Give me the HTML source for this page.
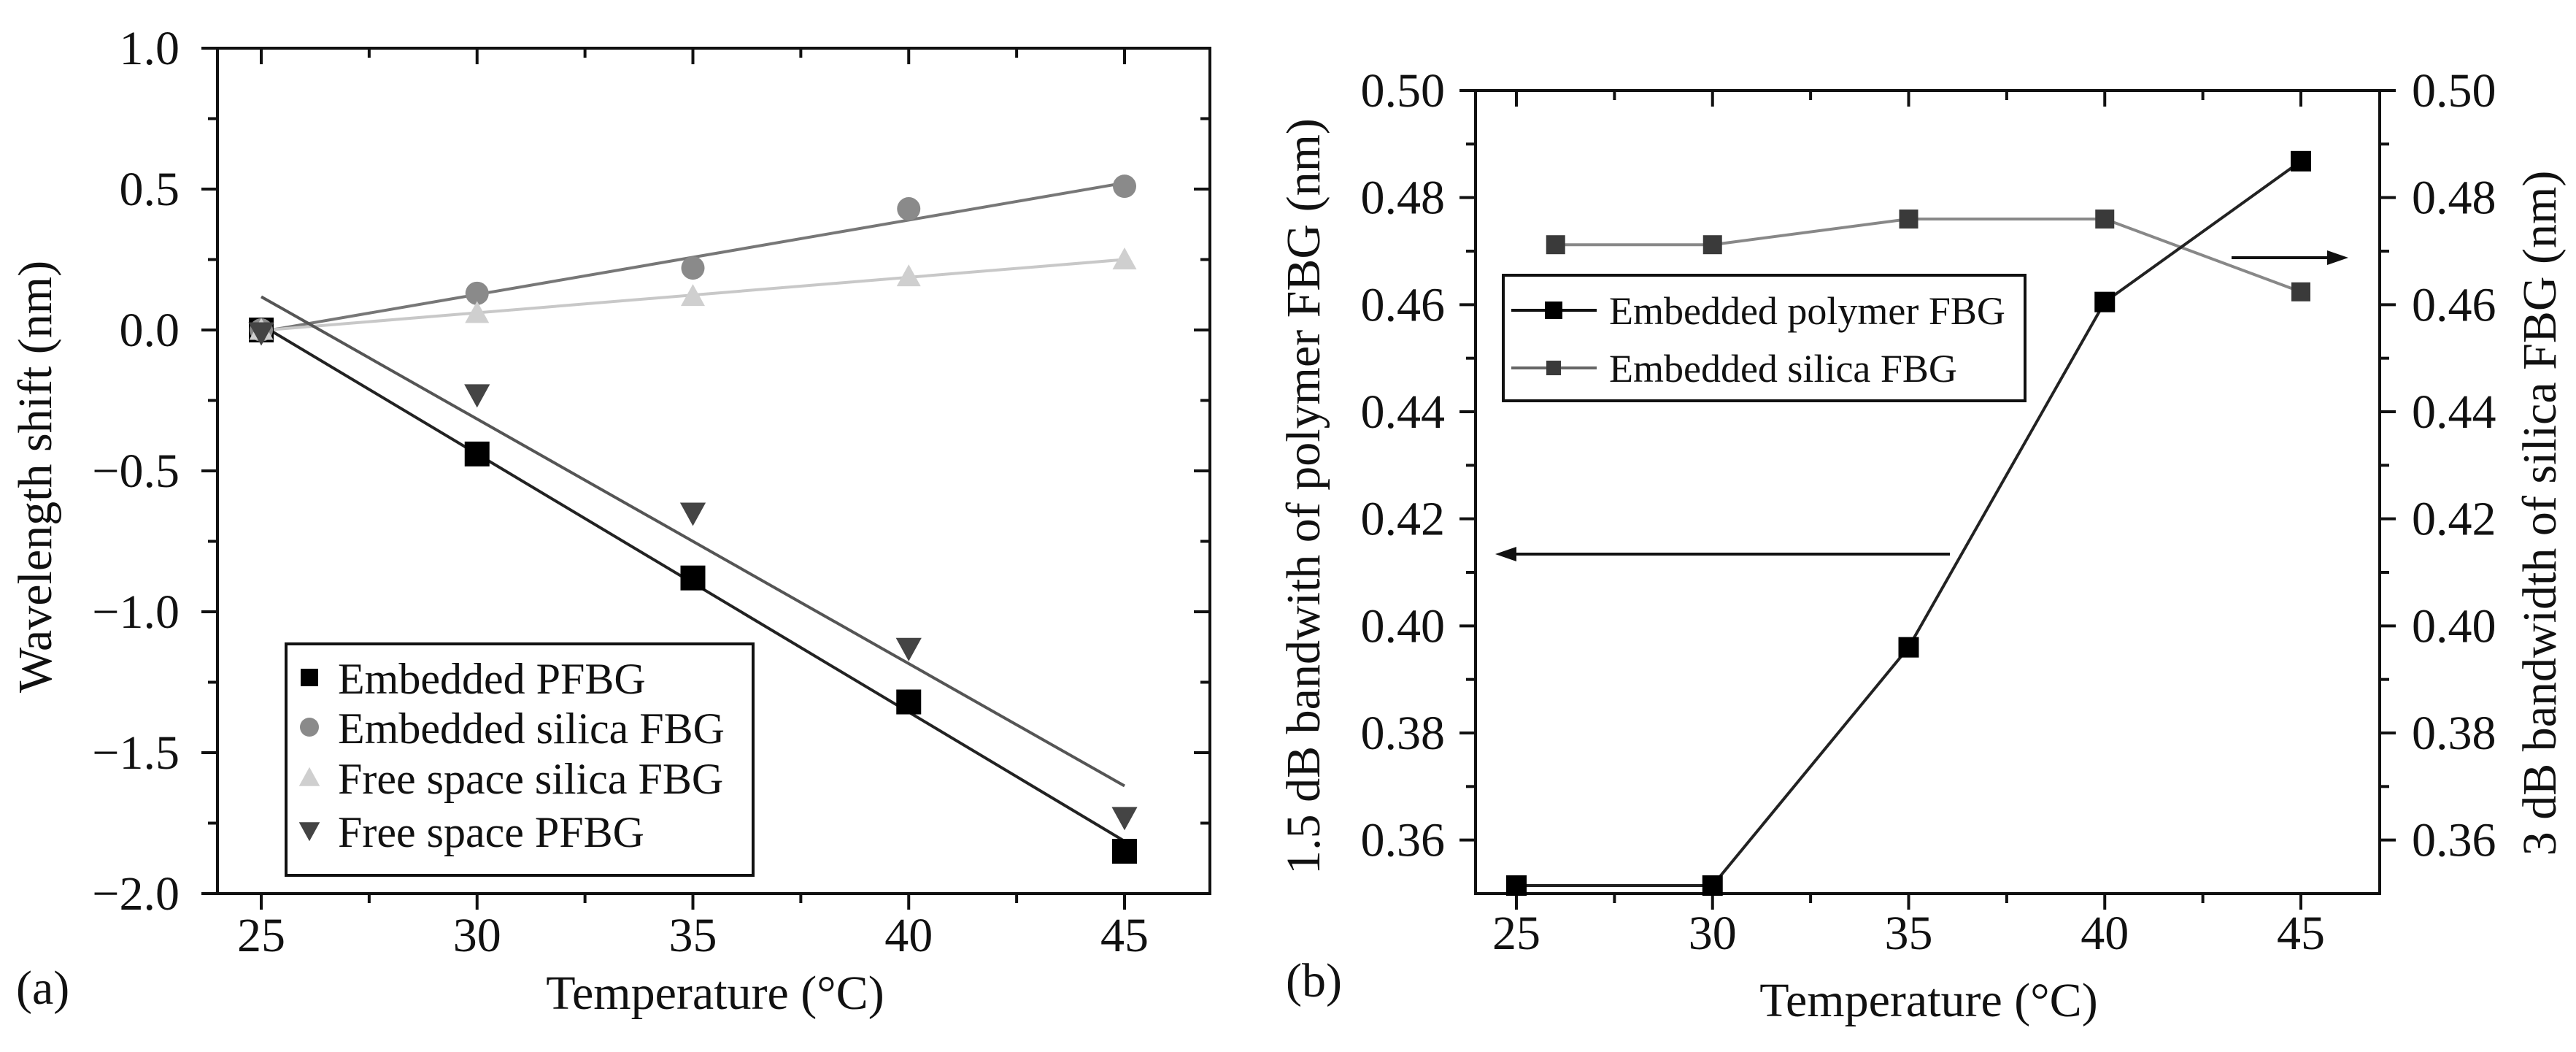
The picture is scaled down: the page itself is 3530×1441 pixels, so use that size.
<!DOCTYPE html>
<html><head><meta charset="utf-8"><style>
html,body{margin:0;padding:0;background:#fff;}
svg{display:block;font-family:"Liberation Serif",serif;}
</style></head><body>
<svg id="fig" width="3530" height="1441" viewBox="0 0 3530 1441" xmlns="http://www.w3.org/2000/svg">
<g id="pa"></g>
<g id="pb"></g>
</svg>
<script>
// Panel (a) data
const tempsA = [25, 30, 35, 40, 45];
const embPFBG = [0, -0.44, -0.88, -1.32, -1.85];
const embSilica = [0, 0.13, 0.22, 0.43, 0.51];
const freeSilica = [0, 0.06, 0.12, 0.19, 0.25];
const freePFBG = [-0.01, -0.23, -0.65, -1.13, -1.73];
const yTicksA = [1.0, 0.5, 0.0, -0.5, -1.0, -1.5, -2.0];
const yTickLabelsA = ["1.0", "0.5", "0.0", "\u22120.5", "\u22121.0", "\u22121.5", "\u22122.0"];
const xTicks = [25, 30, 35, 40, 45];
const legendA = ["Embedded PFBG", "Embedded silica FBG", "Free space silica FBG", "Free space PFBG"];
// Panel (b) data
const tempsPoly = [25, 30, 35, 40, 45];
const polyBW = [0.3515, 0.3515, 0.396, 0.4605, 0.4868];
const tempsSil = [26, 30, 35, 40, 45];
const silBW = [0.4712, 0.4712, 0.476, 0.476, 0.4624];
const yTicksB = [0.50, 0.48, 0.46, 0.44, 0.42, 0.40, 0.38, 0.36];
const yTickLabelsB = ["0.50", "0.48", "0.46", "0.44", "0.42", "0.40", "0.38", "0.36"];
const legendB = ["Embedded polymer FBG", "Embedded silica FBG"];

const NS = "http://www.w3.org/2000/svg";
function mk(parent, tag, attrs, text){
  const e = document.createElementNS(NS, tag);
  for (const k in attrs) e.setAttribute(k, attrs[k]);
  if (text !== undefined) e.textContent = text;
  parent.appendChild(e);
  return e;
}
function fit(xs, ys){
  const n = xs.length; let mx=0,my=0; for(let i=0;i<n;i++){mx+=xs[i];my+=ys[i];} mx/=n; my/=n;
  let sxy=0,sxx=0; for(let i=0;i<n;i++){sxy+=(xs[i]-mx)*(ys[i]-my); sxx+=(xs[i]-mx)**2;}
  const b=sxy/sxx; return [my-b*mx, b];
}
function marker(g, type, x, y, s, color){
  let e;
  if (type==='sq') e = mk(g,'rect',{x:x-s/2,y:y-s/2,width:s,height:s,fill:color});
  else if (type==='ci') e = mk(g,'circle',{cx:x,cy:y,r:s/2,fill:color});
  else if (type==='tu') e = mk(g,'polygon',{points:`${x},${y-s*0.55} ${x-s*0.55},${y+s*0.45} ${x+s*0.55},${y+s*0.45}`,fill:color});
  else e = mk(g,'polygon',{points:`${x},${y+s*0.55} ${x-s*0.55},${y-s*0.45} ${x+s*0.55},${y-s*0.45}`,fill:color});
  return e;
}

// ---------- Panel A ----------
(function(){
  const g = document.getElementById('pa');
  const L=298,R=1658,T=66,B=1224;
  const xA = v => 358 + (v-25)*(1541-358)/20;
  const yA = v => T + (1.0-v)*(B-T)/3.0;
  let e = mk(g,'rect',{x:L,y:T,width:R-L,height:B-T,fill:'none',stroke:'#111','stroke-width':4});
   
  for (let i=0;i<xTicks.length;i++){
    const x=xA(xTicks[i]);
    mk(g,'line',{x1:x,y1:B,x2:x,y2:B+22,stroke:'#111','stroke-width':4});
    mk(g,'line',{x1:x,y1:T,x2:x,y2:T+22,stroke:'#111','stroke-width':4});
    const t = mk(g,'text',{x:x,y:1303,'font-size':66,'text-anchor':'middle',fill:'#111'},String(xTicks[i]));
     
  }
  for (let v=22.5; v<=47.5; v+=5){
    const x=xA(v); if (x<=L||x>=R) continue;
    mk(g,'line',{x1:x,y1:B,x2:x,y2:B+13,stroke:'#111','stroke-width':4});
    mk(g,'line',{x1:x,y1:T,x2:x,y2:T+13,stroke:'#111','stroke-width':4});
  }
  for (let i=0;i<yTicksA.length;i++){
    const y=yA(yTicksA[i]);
    mk(g,'line',{x1:L-22,y1:y,x2:L,y2:y,stroke:'#111','stroke-width':4});
    mk(g,'line',{x1:R,y1:y,x2:R-22,y2:y,stroke:'#111','stroke-width':4});
    const t = mk(g,'text',{x:L-52,y:y+22,'font-size':66,'text-anchor':'end',fill:'#111'},yTickLabelsA[i]);
     
  }
  for (let v=0.75; v>-2; v-=0.5){
    const y=yA(v);
    mk(g,'line',{x1:L-13,y1:y,x2:L,y2:y,stroke:'#111','stroke-width':4});
    mk(g,'line',{x1:R,y1:y,x2:R-13,y2:y,stroke:'#111','stroke-width':4});
  }
  const series = [
    {d:embPFBG, m:'sq', c:'#000', lc:'#222', s:34, n:'embedded-pfbg'},
    {d:embSilica, m:'ci', c:'#8a8a8a', lc:'#777', s:32, n:'embedded-silica'},
    {d:freeSilica, m:'tu', c:'#cfcfcf', lc:'#c8c8c8', s:30, n:'free-space-silica'},
    {d:freePFBG, m:'td', c:'#444', lc:'#555', s:32, n:'free-space-pfbg'}
  ];
  series.forEach(s=>{
    const [a,b]=fit(tempsA,s.d);
    const ln = mk(g,'line',{x1:xA(25),y1:yA(a+b*25),x2:xA(45),y2:yA(a+b*45),stroke:s.lc,'stroke-width':4});
     
  });
  series.forEach(s=>{
    for (let i=0;i<tempsA.length;i++){
      const m = marker(g,s.m,xA(tempsA[i]),yA(s.d[i]),s.s,s.c);
       
    }
  });
  const lg = mk(g,'g',{});
   
  mk(lg,'rect',{x:392,y:882,width:640,height:317,fill:'#fff',stroke:'#111','stroke-width':4});
  const ly=[930,998,1067,1140];
  for (let i=0;i<4;i++){
    const it = mk(lg,'g',{});
     
    marker(it,series[i].m,424,ly[i]-2,series[i].m==='sq'?24:26,series[i].c);
    mk(it,'text',{x:463,y:ly[i]+20,'font-size':60,fill:'#111'},legendA[i]);
  }
  let t = mk(g,'text',{x:0,y:0,'font-size':66,'text-anchor':'middle',fill:'#111',transform:'translate(70,653) rotate(-90)'},'Wavelength shift (nm)');
   
  t = mk(g,'text',{x:980,y:1382,'font-size':66,'text-anchor':'middle',fill:'#111'},'Temperature (\u00B0C)');
   
  t = mk(g,'text',{x:22,y:1375,'font-size':66,fill:'#111'},'(a)');
   
})();

// ---------- Panel B ----------
(function(){
  const g = document.getElementById('pb');
  const L=2022,R=3261,T=124,B=1224;
  const xB = v => 2078 + (v-25)*(3153-2078)/20;
  const yB = v => T + (0.50-v)*(B-T)/0.15;
  let e = mk(g,'rect',{x:L,y:T,width:R-L,height:B-T,fill:'none',stroke:'#111','stroke-width':4});
   
  for (let i=0;i<xTicks.length;i++){
    const x=xB(xTicks[i]);
    mk(g,'line',{x1:x,y1:B,x2:x,y2:B+22,stroke:'#111','stroke-width':4});
    mk(g,'line',{x1:x,y1:T,x2:x,y2:T+22,stroke:'#111','stroke-width':4});
    const t = mk(g,'text',{x:x,y:1300,'font-size':66,'text-anchor':'middle',fill:'#111'},String(xTicks[i]));
     
  }
  for (let v=22.5; v<=47.5; v+=5){
    const x=xB(v); if (x<=L||x>=R) continue;
    mk(g,'line',{x1:x,y1:B,x2:x,y2:B+13,stroke:'#111','stroke-width':4});
    mk(g,'line',{x1:x,y1:T,x2:x,y2:T+13,stroke:'#111','stroke-width':4});
  }
  for (let i=0;i<yTicksB.length;i++){
    const y=yB(yTicksB[i]);
    mk(g,'line',{x1:L-22,y1:y,x2:L,y2:y,stroke:'#111','stroke-width':4});
    mk(g,'line',{x1:R,y1:y,x2:R+22,y2:y,stroke:'#111','stroke-width':4});
    let t = mk(g,'text',{x:L-42,y:y+22,'font-size':66,'text-anchor':'end',fill:'#111'},yTickLabelsB[i]);
     
    t = mk(g,'text',{x:R+44,y:y+22,'font-size':66,fill:'#111'},yTickLabelsB[i]);
     
  }
  for (let v=0.49; v>0.35; v-=0.02){
    const y=yB(v);
    mk(g,'line',{x1:L-13,y1:y,x2:L,y2:y,stroke:'#111','stroke-width':4});
    mk(g,'line',{x1:R,y1:y,x2:R+13,y2:y,stroke:'#111','stroke-width':4});
  }
  let pts = tempsSil.map((t,i)=>xB(t)+','+yB(silBW[i])).join(' ');
  let pl = mk(g,'polyline',{points:pts,fill:'none',stroke:'#888','stroke-width':4});
   
  pts = tempsPoly.map((t,i)=>xB(t)+','+yB(polyBW[i])).join(' ');
  pl = mk(g,'polyline',{points:pts,fill:'none',stroke:'#222','stroke-width':4});
   
  for (let i=0;i<tempsSil.length;i++){
    const m = marker(g,'sq',xB(tempsSil[i]),yB(silBW[i]),26,'#3a3a3a');
     
  }
  for (let i=0;i<tempsPoly.length;i++){
    const m = marker(g,'sq',xB(tempsPoly[i]),yB(polyBW[i]),28,'#000');
     
  }
  let a = mk(g,'g',{});  
  mk(a,'line',{x1:2672,y1:759,x2:2070,y2:759,stroke:'#111','stroke-width':4});
  mk(a,'polygon',{points:'2049,759 2078,749 2078,769',fill:'#111'});
  a = mk(g,'g',{});  
  mk(a,'line',{x1:3058,y1:353,x2:3198,y2:353,stroke:'#111','stroke-width':4});
  mk(a,'polygon',{points:'3218,353 3189,343 3189,363',fill:'#111'});
  const lg = mk(g,'g',{});
   
  mk(lg,'rect',{x:2060,y:377,width:715,height:172,fill:'#fff',stroke:'#111','stroke-width':4});
  const ly=[425,504], cols=['#111','#666'], mcol=['#000','#3a3a3a'];
  for (let i=0;i<2;i++){
    const it = mk(lg,'g',{});
     
    mk(it,'line',{x1:2071,y1:ly[i],x2:2188,y2:ly[i],stroke:cols[i],'stroke-width':4});
    marker(it,'sq',2129,ly[i],i===0?24:20,mcol[i]);
    mk(it,'text',{x:2205,y:ly[i]+19,'font-size':54,fill:'#111'},legendB[i]);
  }
  let t = mk(g,'text',{x:0,y:0,'font-size':66,'text-anchor':'middle',fill:'#111',transform:'translate(1808,680) rotate(-90)'},'1.5 dB bandwith of polymer FBG (nm)');
   
  t = mk(g,'text',{x:0,y:0,'font-size':66,'text-anchor':'middle',fill:'#111',transform:'translate(3502,703) rotate(-90)'},'3 dB bandwidth of silica FBG (nm)');
   
  t = mk(g,'text',{x:2643,y:1392,'font-size':66,'text-anchor':'middle',fill:'#111'},'Temperature (\u00B0C)');
   
  t = mk(g,'text',{x:1762,y:1365,'font-size':66,fill:'#111'},'(b)');
   
})();
</script>
</body></html>
